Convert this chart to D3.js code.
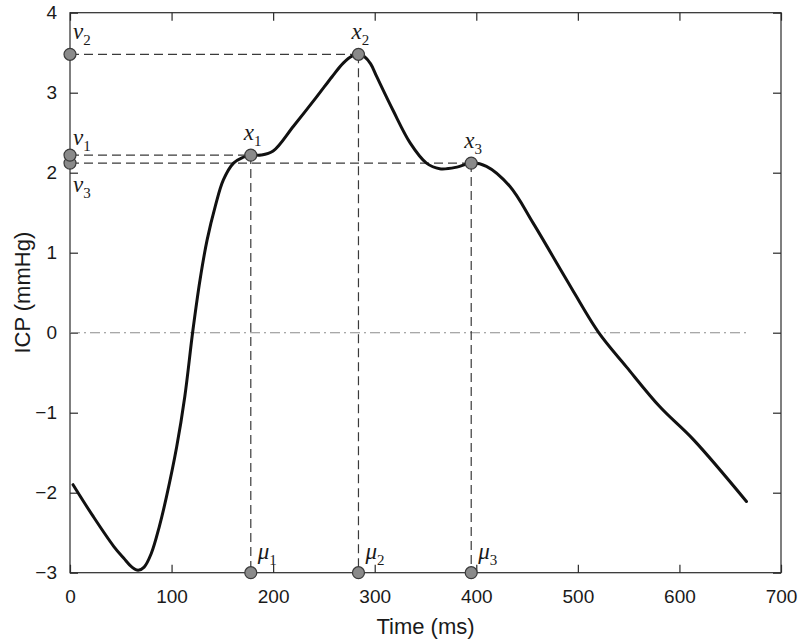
<!DOCTYPE html>
<html>
<head>
<meta charset="utf-8">
<script src="https://cdn.jsdelivr.net/npm/d3@7/dist/d3.min.js"></script>
<style>
  html, body { margin: 0; padding: 0; background: #fff; }
  svg { display: block; }
</style>
</head>
<body>
<script>
// ---- data ----
const timeMs = [3, 23, 43, 53, 61, 67, 73, 80, 88, 95, 105, 113, 121, 128, 135, 143, 151, 161, 170, 178, 188, 200, 220, 243, 258, 269, 278, 284, 290, 296, 302, 318, 335, 351, 364, 381, 395, 410, 433, 456, 489, 520, 548, 581, 614, 666];
const icp = [-1.9, -2.3, -2.67, -2.82, -2.93, -2.97, -2.93, -2.76, -2.42, -2.05, -1.43, -0.8, 0.03, 0.66, 1.16, 1.58, 1.91, 2.12, 2.19, 2.22, 2.22, 2.27, 2.58, 2.95, 3.2, 3.37, 3.46, 3.48, 3.45, 3.36, 3.2, 2.78, 2.37, 2.12, 2.05, 2.07, 2.12, 2.08, 1.83, 1.37, 0.66, 0.01, -0.43, -0.93, -1.34, -2.11];
const featureTimes = [178, 284, 395];
const featureValues = [2.22, 3.48, 2.12];
const featureIdx = ["1", "2", "3"];
const xTicks = [0, 100, 200, 300, 400, 500, 600, 700];
const yTicks = [-3, -2, -1, 0, 1, 2, 3, 4];
const xLabel = "Time (ms)";
const yLabel = "ICP (mmHg)";

// ---- layout ----
const W = 800, H = 643;
const m = { left: 70, right: 19, top: 12.7, bottom: 70.3 };
const svg = d3.select("body").append("svg").attr("width", W).attr("height", H);

const x = d3.scaleLinear().domain([0, 700]).range([m.left, W - m.right]);
const y = d3.scaleLinear().domain([-3, 4]).range([H - m.bottom, m.top]);

const axisColor = "#2a2a2a";
const sans = "'Liberation Sans', Arial, Helvetica, sans-serif";
const serif = "'Liberation Serif', 'DejaVu Serif', serif";

// frame
svg.append("rect")
  .attr("x", x(0)).attr("y", y(4))
  .attr("width", x(700) - x(0)).attr("height", y(-3) - y(4))
  .attr("fill", "none").attr("stroke", axisColor).attr("stroke-width", 1.2);

// axes with inward ticks (mirrored)
const tl = 8;
const gxB = svg.append("g").attr("transform", `translate(0,${y(-3)})`)
  .call(d3.axisBottom(x).tickValues(xTicks).tickSizeInner(-tl).tickSizeOuter(0).tickPadding(17).tickFormat(d3.format("d")));
const gxT = svg.append("g").attr("transform", `translate(0,${y(4)})`)
  .call(d3.axisTop(x).tickValues(xTicks).tickSizeInner(-tl).tickSizeOuter(0).tickFormat(""));
const gyL = svg.append("g").attr("transform", `translate(${x(0)},0)`)
  .call(d3.axisLeft(y).tickValues(yTicks).tickSizeInner(-tl).tickSizeOuter(0).tickPadding(13).tickFormat(d => d < 0 ? "\u2212" + Math.abs(d) : d));
const gyR = svg.append("g").attr("transform", `translate(${x(700)},0)`)
  .call(d3.axisRight(y).tickValues(yTicks).tickSizeInner(-tl).tickSizeOuter(0).tickFormat(""));
[gxB, gxT, gyL, gyR].forEach(g => {
  g.select(".domain").remove();
  g.selectAll(".tick line").attr("stroke", axisColor).attr("stroke-width", 1.2);
  g.selectAll(".tick text").attr("fill", "#1a1a1a").style("font-family", sans).style("font-size", "19px");
});

// axis titles
svg.append("text")
  .attr("x", (x(0) + x(700)) / 2).attr("y", 634)
  .attr("text-anchor", "middle")
  .style("font-family", sans).style("font-size", "22px").attr("fill", "#1a1a1a")
  .text(xLabel);
svg.append("text")
  .attr("transform", `translate(30,${(y(-3) + y(4)) / 2}) rotate(-90)`)
  .attr("text-anchor", "middle")
  .style("font-family", sans).style("font-size", "22px").attr("fill", "#1a1a1a")
  .text(yLabel);

// zero dash-dot line
svg.append("line")
  .attr("x1", x(0)).attr("x2", x(timeMs[timeMs.length - 1]))
  .attr("y1", y(0)).attr("y2", y(0))
  .attr("stroke", "#8c8c8c").attr("stroke-width", 1.1)
  .attr("stroke-dasharray", "10,4,2,4");

// dashed guide lines
const dashColor = "#3a3a3a";
featureTimes.forEach((t, i) => {
  svg.append("line")
    .attr("x1", x(0)).attr("x2", x(t))
    .attr("y1", y(featureValues[i])).attr("y2", y(featureValues[i]))
    .attr("stroke", dashColor).attr("stroke-width", 1.2).attr("stroke-dasharray", "9,5");
  svg.append("line")
    .attr("x1", x(t)).attr("x2", x(t))
    .attr("y1", y(featureValues[i])).attr("y2", y(-3))
    .attr("stroke", dashColor).attr("stroke-width", 1.2).attr("stroke-dasharray", "9,5");
});

// curve
const pts = timeMs.map((t, i) => [t, icp[i]]);
svg.append("path")
  .datum(pts)
  .attr("fill", "none").attr("stroke", "#111").attr("stroke-width", 3)
  .attr("stroke-linejoin", "round").attr("stroke-linecap", "round")
  .attr("d", d3.line().x(d => x(d[0])).y(d => y(d[1])).curve(d3.curveCatmullRom.alpha(0.5)));

// markers
const mk = (cx, cy) => svg.append("circle")
  .attr("cx", cx).attr("cy", cy).attr("r", 6)
  .attr("fill", "#8a8a8a").attr("stroke", "#3a3a3a").attr("stroke-width", 1.2);

// order: v markers (v1 drawn over v3), mu markers, x markers
[2, 0, 1].forEach(i => mk(x(0), y(featureValues[i])));
featureTimes.forEach(t => mk(x(t), y(-3)));
featureTimes.forEach((t, i) => mk(x(t), y(featureValues[i])));

// math labels
function mathLabel(px, py, base, sub) {
  const txt = svg.append("text").attr("x", px).attr("y", py)
    .style("font-family", serif).style("font-style", "italic")
    .style("font-size", "23px").attr("fill", "#1a1a1a");
  txt.append("tspan").text(base);
  txt.append("tspan").attr("dy", 6).style("font-style", "normal").style("font-size", "15px").text(sub);
}
const vOffsets = [-10, -15, 29];
featureTimes.forEach((t, i) => {
  mathLabel(x(t) - 7, y(featureValues[i]) - 15, "x", featureIdx[i]);
  mathLabel(x(0) + 3, y(featureValues[i]) + vOffsets[i], "v", featureIdx[i]);
  mathLabel(x(t) + 7, y(-3) - 14, "\u03bc", featureIdx[i]);
});
</script>
</body>
</html>
